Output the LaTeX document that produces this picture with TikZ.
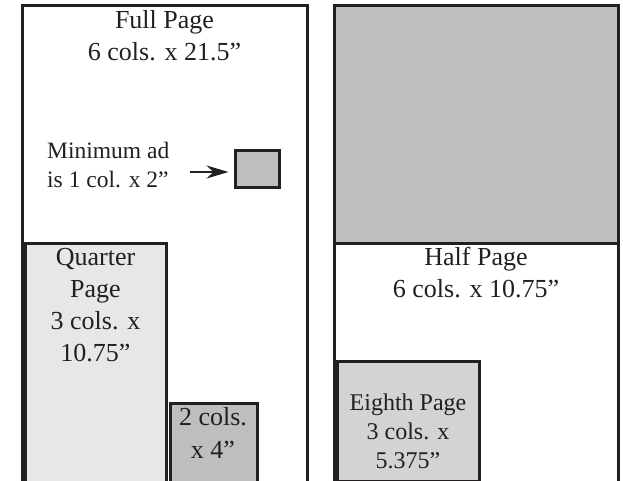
\documentclass[tikz,border=0pt]{standalone}
\usepackage{fontspec}
\setmainfont{Liberation Serif}
\usetikzlibrary{arrows.meta}
\definecolor{ink}{HTML}{231F20}
\definecolor{gmid}{HTML}{BCBEC0}
\definecolor{glight}{HTML}{E6E7E8}
\definecolor{gsoft}{HTML}{D1D3D4}
\begin{document}
\begin{tikzpicture}[x=1pt,y=-1pt,
  box/.style={draw=ink,line width=3pt,anchor=north west,inner sep=0pt,outer sep=0pt},
  big/.style={align=center,font=\fontsize{26}{32}\selectfont,inner sep=0pt,anchor=base,text=ink},
  small/.style={align=center,font=\fontsize{24}{29}\selectfont,inner sep=0pt,anchor=base,text=ink}]
\useasboundingbox (0,0) rectangle (623,480);
\clip (0,0) rectangle (623,480);
% left page
\node[box,fill=white,minimum width=284.5pt,minimum height=477pt] (full) at (22.5,5) {};
\node[box,fill=glight,minimum width=141pt,minimum height=240pt] (quarter) at (25.5,243.5) {};
\node[box,fill=gmid,minimum width=87pt,minimum height=80pt] (twocol) at (170,403.5) {};
\node[box,fill=gmid,minimum width=43.5pt,minimum height=37pt] (minad) at (235.5,150.5) {};
% right page
\node[box,fill=white,minimum width=284pt,minimum height=477pt] (half) at (334.5,5) {};
\node[box,fill=gmid,minimum width=284pt,minimum height=238.5pt] (halftop) at (334.5,5) {};
\node[box,fill=gsoft,minimum width=141.5pt,minimum height=120pt] (eighth) at (337.5,361.5) {};
% texts (anchor = baseline of last line)
\node[big] (tfull) at (164.5,60) {Full Page\\6 cols. x 21.5”};
\node[align=left,anchor=base west,inner sep=0pt,text=ink,font=\fontsize{23.5}{29}\selectfont] (tmin) at (47,187) {Minimum ad\\is 1 col. x 2”};
\node[big] (tquarter) at (95.5,361) {Quarter\\Page\\3 cols. x\\10.75”};
\node[big,font=\fontsize{26}{33}\selectfont] (ttwo) at (213,458) {2 cols.\\x 4”};
\node[big] (thalf) at (476,297) {Half Page\\6 cols. x 10.75”};
\node[small] (teighth) at (408,468) {Eighth Page\\3 cols. x\\5.375”};
% arrow
\coordinate (astart) at (190,172);
\draw[ink,line width=2pt,-{Stealth[length=22pt,width=13pt,inset=7pt]},shorten >=7pt] (astart) -- (minad.west |- astart);
\end{tikzpicture}
\end{document}
